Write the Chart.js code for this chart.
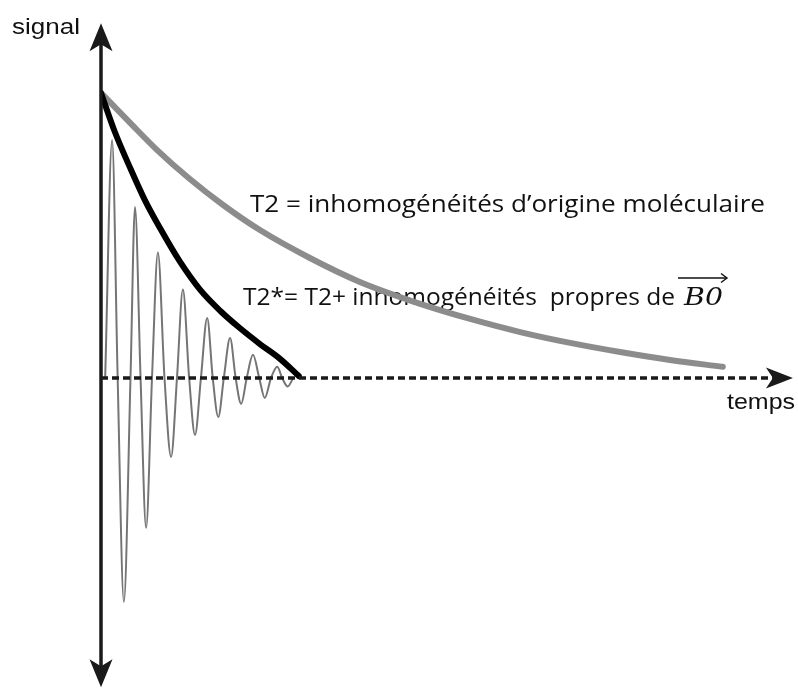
<!DOCTYPE html>
<html>
<head>
<meta charset="utf-8">
<script src="https://cdn.jsdelivr.net/npm/chart.js@4"></script>
<style>
  body { margin: 0; background: #fff; }
  canvas { display: block; }
</style>
</head>
<body>
<canvas id="canvas1" width="798" height="690"></canvas>
<script>
// signal values (time in arbitrary units 0-100, signal = 1 at start)
let t2Time   = [0, 4.2, 7.9, 12.8, 17.6, 22.9, 30.1, 37.3, 46.0, 53.2, 60.4, 67.6, 74.8, 82.0, 89.6]
let t2Signal = [1.0, 0.895, 0.804, 0.698, 0.607, 0.519, 0.421, 0.337, 0.260, 0.207, 0.161, 0.123, 0.091, 0.063, 0.039]

let t2sTime   = [0, 2.0, 4.2, 6.3, 8.5, 11.4, 14.3, 17.2, 20.0, 22.9, 25.8, 28.5]
let t2sSignal = [1.0, 0.863, 0.737, 0.625, 0.526, 0.407, 0.309, 0.235, 0.175, 0.119, 0.067, 0.007]

let fidTime   = [0.6, 1.6, 2.4, 3.3, 4.25, 4.9, 5.7, 6.5, 7.35, 8.2, 9.15, 10.1, 10.95, 11.8, 12.7, 13.55,
                 14.4, 15.3, 16.1, 16.9, 17.7, 18.6, 19.4, 20.2, 21.0, 21.9, 22.8, 23.6, 24.5, 25.4, 26.1, 26.9, 27.7]
let fidSignal = [0, 0.835, 0, -0.786, 0, 0.60, 0, -0.526, 0, 0.44, 0, -0.277, 0, 0.31, 0, -0.20,
                 0, 0.21, 0, -0.137, 0, 0.14, 0, -0.091, 0, 0.081, 0, -0.07, 0, 0.039, 0, -0.03, 0]

let xMin = 0, xMax = 100
let yMin = -1.088, yMax = 1.249

function pts(xs, ys) { return xs.map((x, i) => ({x: x, y: ys[i]})) }

// draw a string stretched to a given width
function fitText(c, str, x, y, w) {
    let m = c.measureText(str).width
    c.save()
    c.translate(x, y)
    c.scale(w / m, 1)
    c.fillText(str, 0, 0)
    c.restore()
}

/* axes with arrows, drawn on top of curves */
const arrowAxes = {
    id: 'arrowAxes',
    afterDatasetsDraw(chart) {
        const c = chart.ctx
        const xs = chart.scales.x, ys = chart.scales.y
        const x0 = xs.getPixelForValue(0)
        const y0 = ys.getPixelForValue(0)
        const top = ys.getPixelForValue(1.245)
        const bottom = ys.getPixelForValue(-1.085)
        const right = xs.getPixelForValue(99.7)
        c.save()
        c.fillStyle = '#1a1a1a'
        c.strokeStyle = '#1a1a1a'
        // vertical axis
        c.lineWidth = 3.5
        c.beginPath(); c.moveTo(x0, top + 10); c.lineTo(x0, bottom - 10); c.stroke()
        c.beginPath()
        c.moveTo(x0, top); c.lineTo(x0 - 11.5, top + 28); c.lineTo(x0, top + 21); c.lineTo(x0 + 11.5, top + 28)
        c.closePath(); c.fill()
        c.beginPath()
        c.moveTo(x0, bottom); c.lineTo(x0 - 11.5, bottom - 28); c.lineTo(x0, bottom - 21); c.lineTo(x0 + 11.5, bottom - 28)
        c.closePath(); c.fill()
        // dashed time axis
        c.setLineDash([7, 4])
        c.beginPath(); c.moveTo(x0, y0); c.lineTo(right - 20, y0); c.stroke()
        c.setLineDash([])
        c.beginPath()
        c.moveTo(right, y0); c.lineTo(right - 27, y0 - 10.5); c.lineTo(right - 20, y0); c.lineTo(right - 27, y0 + 10.5)
        c.closePath(); c.fill()
        c.restore()
    }
}

/* text labels, behind the curves */
const labels = {
    id: 'labels',
    beforeDatasetsDraw(chart) {
        const c = chart.ctx
        c.save()
        c.fillStyle = '#111'
        c.textBaseline = 'alphabetic'
        c.font = '22px "Liberation Sans", Arial, sans-serif'
        fitText(c, 'signal', 12, 34, 68)
        fitText(c, 'temps', 727, 409, 68)
        c.font = '24px "Open Sans", sans-serif'
        c.fillStyle = '#111'
        fitText(c, 'T2 = inhomogénéités d\u2019origine moléculaire', 250, 212, 515)
        const s = 'T2*= T2+ inhomogénéités  propres de'
        fitText(c, s, 243, 305, 432)
        c.font = 'italic 25px "DejaVu Serif", "Liberation Serif", serif'
        const bx = 684
        fitText(c, 'B0', bx, 305, 39)
        c.strokeStyle = '#111'
        c.lineWidth = 1.4
        c.beginPath(); c.moveTo(bx - 6, 278); c.lineTo(bx + 43, 278); c.stroke()
        c.beginPath(); c.moveTo(bx + 37, 273.5); c.lineTo(bx + 43, 278); c.lineTo(bx + 37, 282.5); c.stroke()
        c.restore()
    }
}

let canvas1 = document.getElementById("canvas1")
let ctx1 = canvas1.getContext('2d')
new Chart(ctx1, {
    type: "line",
    data: {
        datasets: [{
            label: "T2*",
            data: pts(t2sTime, t2sSignal),
            borderColor: '#000',
            borderWidth: 6,
            cubicInterpolationMode: 'monotone',
            pointRadius: 0,
            borderCapStyle: 'round'
        }, {
            label: "T2",
            data: pts(t2Time, t2Signal),
            borderColor: '#8c8c8c',
            borderWidth: 6,
            cubicInterpolationMode: 'monotone',
            pointRadius: 0,
            borderCapStyle: 'round'
        }, {
            label: "signal",
            data: pts(fidTime, fidSignal),
            borderColor: '#757575',
            borderWidth: 2,
            cubicInterpolationMode: 'monotone',
            pointRadius: 0
        }]
    },
    options: {
        responsive: false,
        animation: false,
        layout: { padding: { left: 101, right: 3, top: 22, bottom: 2 } },
        scales: {
            x: { type: 'linear', min: xMin, max: xMax, display: false },
            y: { min: yMin, max: yMax, display: false }
        },
        plugins: { legend: { display: false }, tooltip: { enabled: false } }
    },
    plugins: [labels, arrowAxes]
})
</script>
</body>
</html>
